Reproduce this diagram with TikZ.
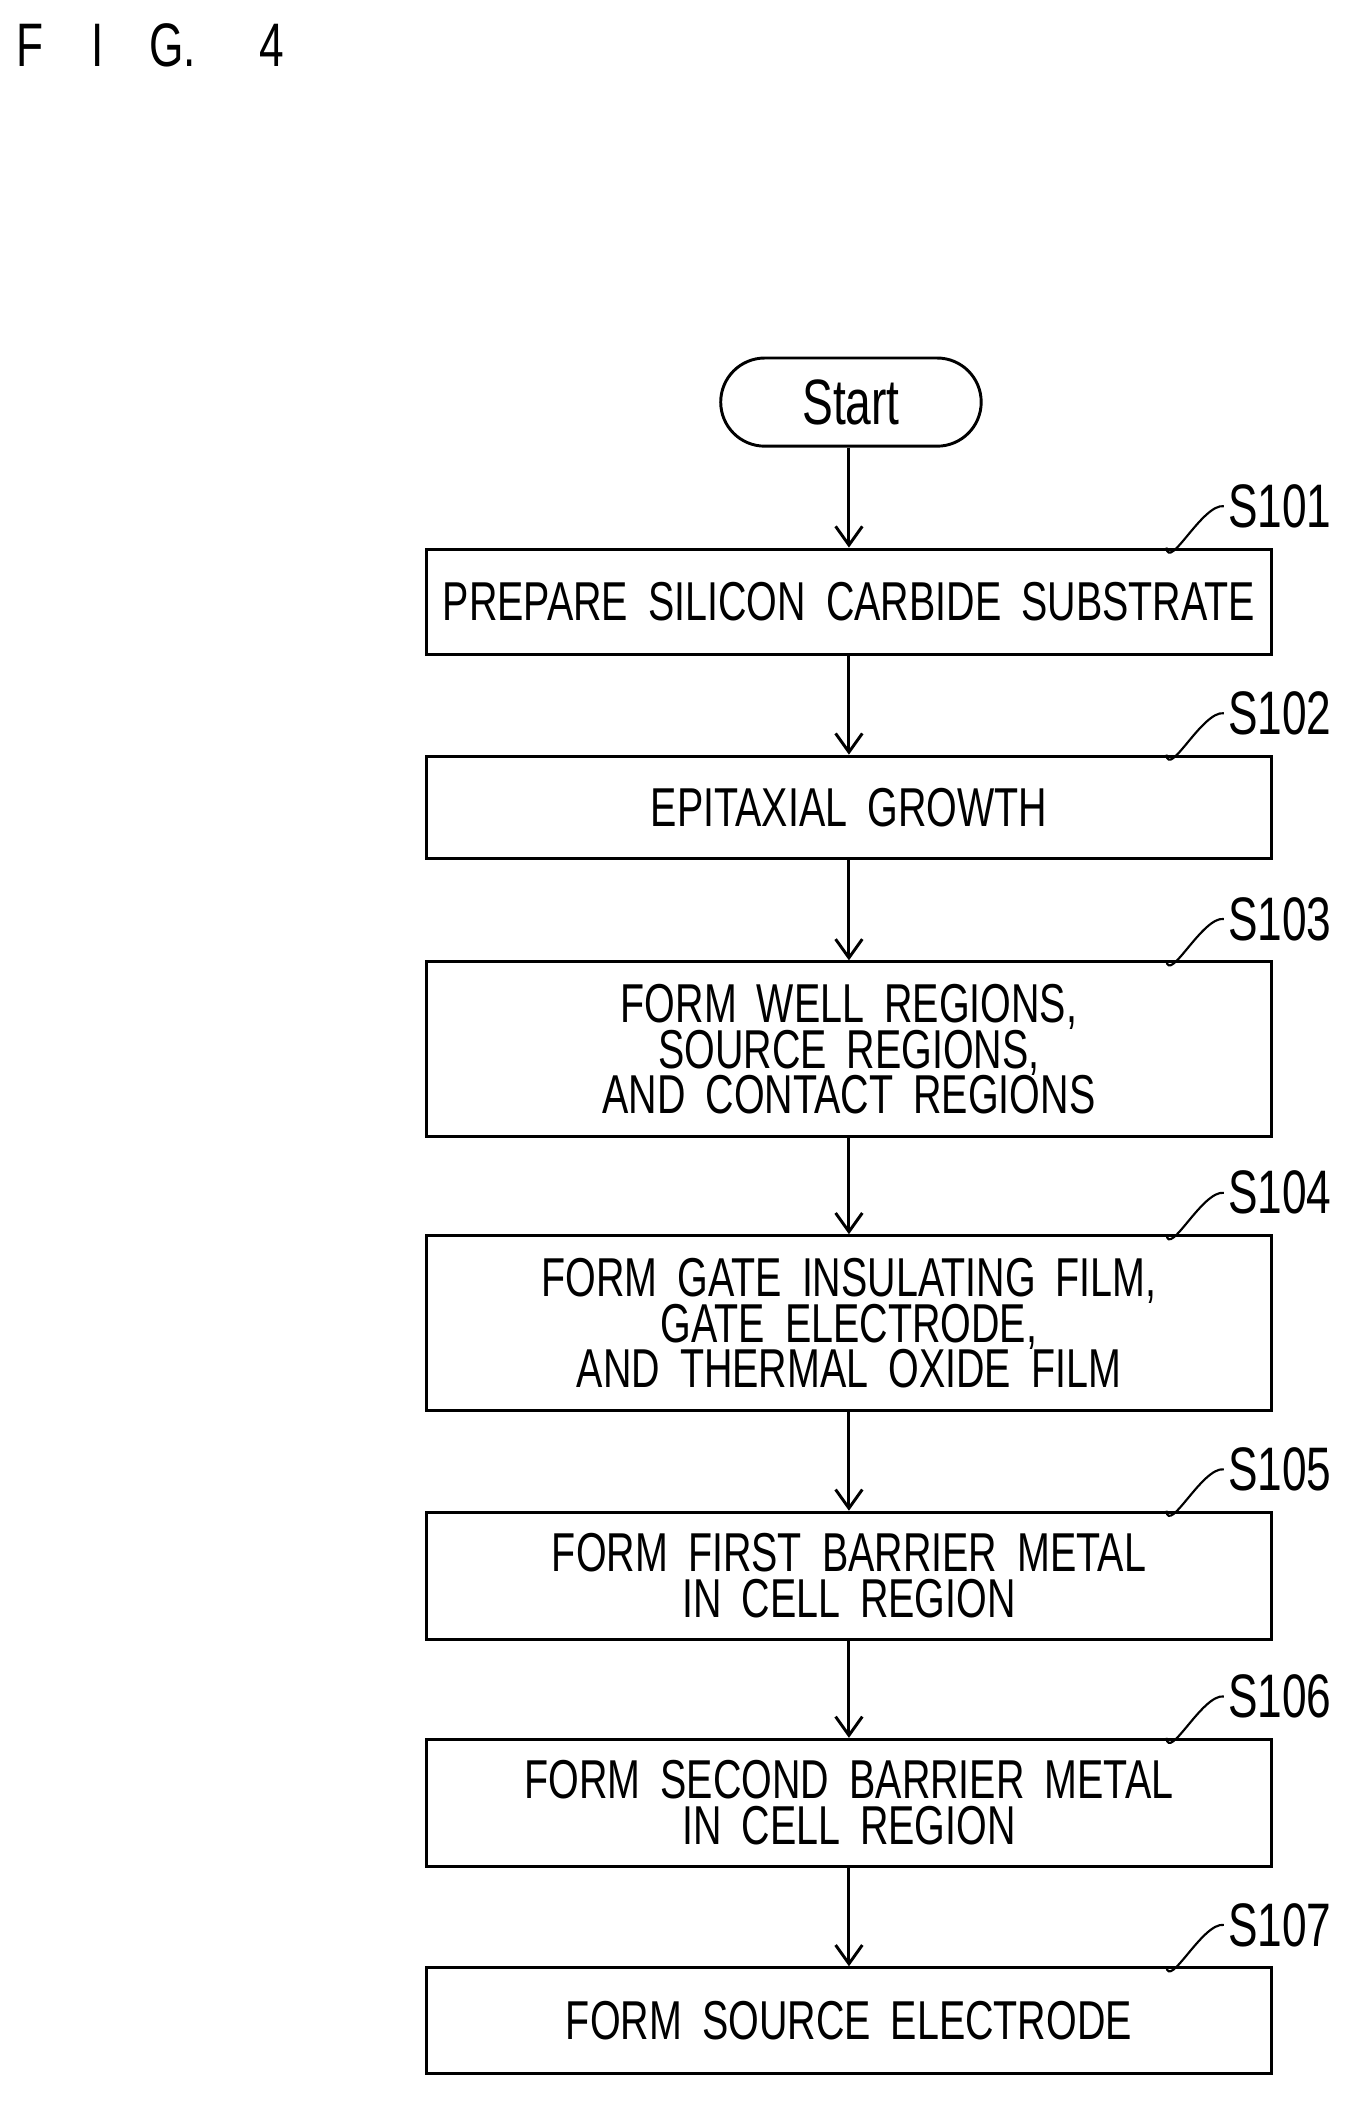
\documentclass[tikz,border=0pt]{standalone}
\usepackage{fontspec}
\usetikzlibrary{arrows.meta}
\setmainfont{Liberation Sans}[FakeStretch=0.72]
\newcommand\W{\hspace{15pt}}
\begin{document}
\begin{tikzpicture}[x=1pt,y=-1pt,
 box/.style={draw,line width=2.2pt,minimum width=633pt,inner sep=0pt,align=center,font=\fontsize{41}{34}\selectfont},
 arr/.style={line width=2.2pt,-{Straight Barb[length=14pt,width=20pt,line width=2.2pt]}},
 lab/.style={font=\fontsize{46}{46}\selectfont,anchor=west,inner sep=0pt}]
\useasboundingbox (0,0) rectangle (1024,1581);
\node[anchor=west,inner sep=0pt,font=\fontsize{46}{46}\selectfont] (fig) at (12,34) {F\hspace{36pt}I\hspace{34pt}G.\hspace{48pt}4};
\node[draw,line width=2.2pt,rounded corners=33pt,minimum width=195pt,minimum height=66pt,font=\fontsize{48}{48}\selectfont] (st) at (637,301) {Start};
\node[box,minimum height=79pt] (b1) at (635.5,450.5) {PREPARE\W SILICON\W CARBIDE\W SUBSTRATE};
\node[box,minimum height=77pt] (b2) at (635.5,604.5) {EPITAXIAL\W GROWTH};
\node[box,minimum height=131pt] (b3) at (635.5,785.5) {FORM\W WELL\W REGIONS,\\SOURCE\W REGIONS,\\AND\W CONTACT\W REGIONS};
\node[box,minimum height=131pt] (b4) at (635.5,990.5) {FORM\W GATE\W INSULATING\W FILM,\\GATE\W ELECTRODE,\\AND\W THERMAL\W OXIDE\W FILM};
\node[box,minimum height=95pt] (b5) at (635.5,1179.5) {FORM\W FIRST\W BARRIER\W METAL\\IN\W CELL\W REGION};
\node[box,minimum height=95pt] (b6) at (635.5,1349.5) {FORM\W SECOND\W BARRIER\W METAL\\IN\W CELL\W REGION};
\node[box,minimum height=79pt] (b7) at (635.5,1512.5) {FORM\W SOURCE\W ELECTRODE};
\draw[arr] (st.south -| b1.north) -- (b1.north);
\foreach \a/\b in {b1/b2,b2/b3,b3/b4,b4/b5,b5/b6,b6/b7} \draw[arr] (\a.south) -- (\b.north);
\foreach \b/\n in {b1/S101,b2/S102,b3/S103,b4/S104,b5/S105,b6/S106,b7/S107}{
 \node[lab] (l\n) at ([xshift=-34pt,yshift=31pt]\b.north east) {\n};
 \draw[line width=1.6pt] ([xshift=-80pt]\b.north east) .. controls +(2pt,-18pt) and +(-16pt,2pt) .. ([xshift=-3pt]l\n.west);
}
\end{tikzpicture}
\end{document}
